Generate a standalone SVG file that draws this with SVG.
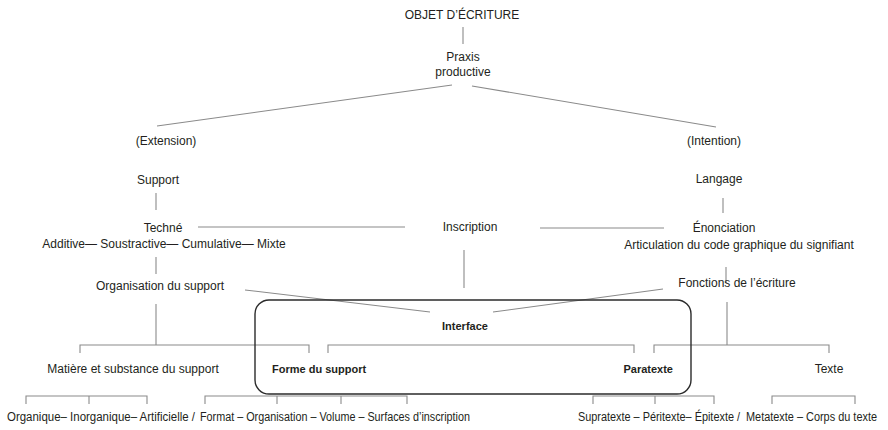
<svg xmlns="http://www.w3.org/2000/svg" width="888" height="430" viewBox="0 0 888 430">
<style>
text{font-family:"Liberation Sans",Arial,sans-serif;font-size:12px;fill:#231f20;text-anchor:middle}
.b{font-weight:bold;font-size:11px}
.s{text-anchor:start}
.c{stroke:#8a8a8a;stroke-width:1.1;fill:none}
.box{stroke:#2b2b2b;stroke-width:1.4;fill:none}
</style>
<rect width="888" height="430" fill="#ffffff"/>
<g id="connectors">
<line class="c" x1="463" y1="27" x2="463" y2="44"/>
<line class="c" x1="452" y1="85" x2="157" y2="126"/>
<line class="c" x1="472" y1="86" x2="716" y2="127"/>
<line class="c" x1="156" y1="193" x2="156" y2="210"/>
<line class="c" x1="723" y1="198" x2="723" y2="213"/>
<line class="c" x1="198" y1="227" x2="405" y2="227"/>
<line class="c" x1="540" y1="228" x2="664" y2="228"/>
<line class="c" x1="156" y1="257" x2="156" y2="274"/>
<line class="c" x1="726" y1="267" x2="726" y2="283"/>
<line class="c" x1="464" y1="250" x2="464" y2="288"/>
<line class="c" x1="245" y1="290" x2="430" y2="312"/>
<line class="c" x1="663" y1="289" x2="493" y2="312"/>
<line class="c" x1="156" y1="304" x2="156" y2="345"/>
<line class="c" x1="727" y1="302" x2="727" y2="345"/>
<polyline class="c" points="80,353 80,345 309,345 309,353"/>
<polyline class="c" points="328,353 328,345 634,345 634,353"/>
<polyline class="c" points="654,353 654,345 829,345 829,353"/>
<polyline class="c" points="26,404 26,396 147,396 147,404"/>
<line class="c" x1="89" y1="396" x2="89" y2="404"/>
<polyline class="c" points="205,404 205,396 407,396 407,404"/>
<line class="c" x1="277" y1="396" x2="277" y2="404"/>
<line class="c" x1="341" y1="396" x2="341" y2="404"/>
<polyline class="c" points="593,404 593,396 714,396 714,404"/>
<line class="c" x1="655" y1="396" x2="655" y2="404"/>
<polyline class="c" points="772,404 772,396 855,396 855,404"/>
</g>
<g id="interface-box">
<rect class="box" x="255" y="300" width="436" height="94" rx="14"/>
</g>
<g id="objet"><text x="462" y="19">OBJET D’ÉCRITURE</text></g>
<g id="praxis"><text x="463" y="61">Praxis</text><text x="463" y="76">productive</text></g>
<g id="extension"><text x="166" y="145">(Extension)</text></g>
<g id="intention"><text x="714" y="145">(Intention)</text></g>
<g id="support"><text x="158" y="184">Support</text></g>
<g id="langage"><text x="719" y="183">Langage</text></g>
<g id="techne"><text x="163" y="232">Techné</text><text x="164" y="248">Additive— Soustractive— Cumulative— Mixte</text></g>
<g id="inscription"><text x="470" y="231">Inscription</text></g>
<g id="enonciation"><text x="724" y="232">Énonciation</text><text x="739" y="249">Articulation du code graphique du signifiant</text></g>
<g id="organisation"><text x="160" y="290">Organisation du support</text></g>
<g id="fonctions"><text x="737" y="287">Fonctions de l’écriture</text></g>
<g id="interface"><text class="b" x="465" y="330">Interface</text></g>
<g id="matiere"><text x="133" y="373">Matière et substance du support</text></g>
<g id="forme"><text class="b s" x="272" y="373">Forme du support</text></g>
<g id="paratexte"><text class="b" x="673" y="373" style="text-anchor:end">Paratexte</text></g>
<g id="texte"><text x="829" y="373">Texte</text></g>
<g id="matiere-types"><text class="s" x="7" y="421" textLength="188" lengthAdjust="spacingAndGlyphs">Organique– Inorganique– Artificielle /</text></g>
<g id="forme-types"><text class="s" x="200" y="421" textLength="270" lengthAdjust="spacingAndGlyphs">Format – Organisation – Volume – Surfaces d’inscription</text></g>
<g id="paratexte-types"><text class="s" x="578" y="421" textLength="162" lengthAdjust="spacingAndGlyphs">Supratexte – Péritexte– Épitexte /</text></g>
<g id="texte-types"><text class="s" x="746" y="421" textLength="131" lengthAdjust="spacingAndGlyphs">Metatexte – Corps du texte</text></g>
</svg>
